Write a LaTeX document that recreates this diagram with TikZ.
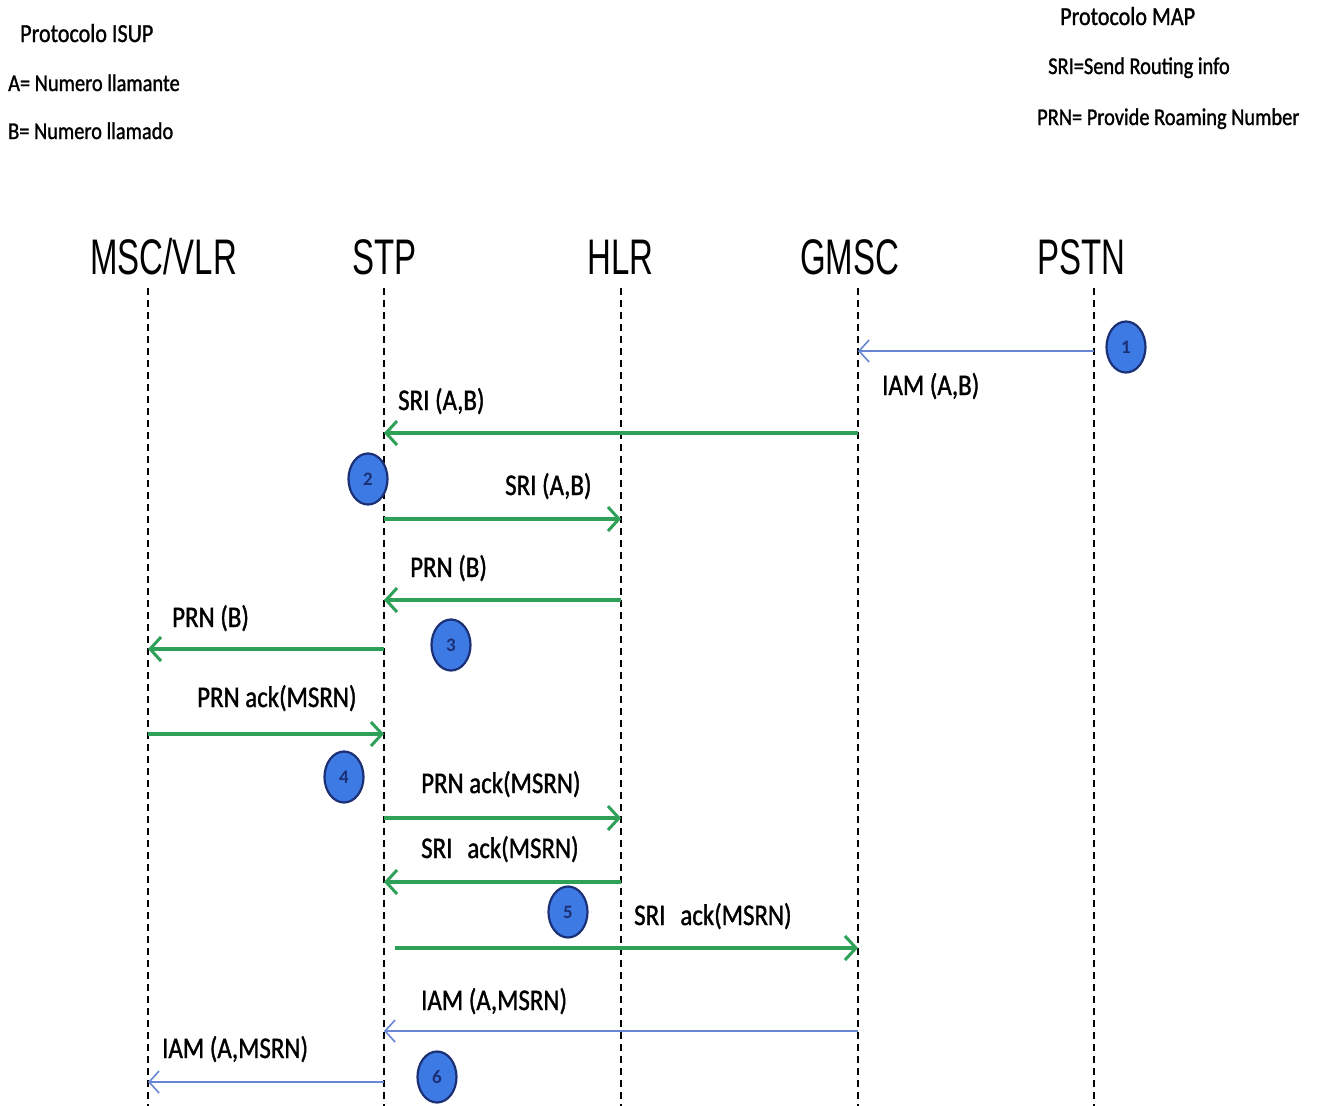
\documentclass[tikz,border=0pt]{standalone}
\usepackage{fontspec}
\setmainfont{Carlito}
\newfontfamily\headfont[FakeStretch=0.66]{Liberation Sans}
\newfontfamily\lblfont[FakeStretch=0.83,FakeBold=1.2]{Carlito}
\newfontfamily\notefont[FakeStretch=0.85,FakeBold=1.2]{Carlito}
\usetikzlibrary{arrows.meta,shapes.geometric}

\definecolor{msggreen}{RGB}{46,160,88}
\definecolor{msgblue}{RGB}{104,134,212}
\definecolor{ballfill}{RGB}{62,122,228}
\definecolor{balledge}{RGB}{28,48,118}

\tikzset{
  lifeline/.style={draw=black, line width=1.6pt, dash pattern=on 7pt off 5pt},
  header/.style={anchor=base west, inner sep=0pt, font=\headfont\fontsize{50}{56}\selectfont},
  msglabel/.style={anchor=base west, inner sep=0pt, font=\lblfont\fontsize{30}{34}\selectfont},
  note/.style={anchor=base west, inner sep=0pt, font=\notefont\fontsize{24}{28}\selectfont},
  notetitle/.style={anchor=base west, inner sep=0pt, font=\notefont\fontsize{26}{30}\selectfont},
  greenmsg/.style={draw=msggreen, line width=3.2pt,
    -{Straight Barb[length=11pt,width=24pt,line width=3pt]}},
  bluemsg/.style={draw=msgblue, line width=1.6pt,
    -{Straight Barb[length=10pt,width=22pt,line width=1.6pt]}},
  stepball/.style={ellipse, fill=ballfill, draw=balledge, line width=2.2pt,
    minimum width=39pt, minimum height=51pt, inner sep=0pt,
    font=\bfseries\fontsize{19}{19}\selectfont, text=balledge},
}

\begin{document}
\begin{tikzpicture}[x=1pt,y=-1pt]
\fill[white] (0,0) rectangle (1318,1106);
\useasboundingbox (0,0) rectangle (1318,1106);

% legend texts
\node[notetitle] (isup)  at (20,42)   {Protocolo ISUP};
\node[note]      (avar)  at (8,91)    {A= Numero llamante};
\node[note]      (bvar)  at (8,139)   {B= Numero llamado};
\node[notetitle] (map)   at (1060,25) {Protocolo MAP};
\node[note]      (sri)   at (1048,74) {SRI=Send Routing info};
\node[note]      (prn)   at (1037,125){PRN= Provide Roaming Number};

% entity headers
\node[header] (hmsc)  at (90,274)   {MSC/VLR};
\node[header] (hstp)  at (352,274)  {STP};
\node[header] (hhlr)  at (587,274)  {HLR};
\node[header] (hgmsc) at (800,274)  {GMSC};
\node[header] (hpstn) at (1037,274) {PSTN};

% lifelines
\coordinate (msc)  at (148,288);  \coordinate (mscB)  at (148,1106);
\coordinate (stp)  at (384,288);  \coordinate (stpB)  at (384,1106);
\coordinate (hlr)  at (621,288);  \coordinate (hlrB)  at (621,1106);
\coordinate (gmsc) at (858,288);  \coordinate (gmscB) at (858,1106);
\coordinate (pstn) at (1094,288); \coordinate (pstnB) at (1094,1106);
\foreach \l in {msc,stp,hlr,gmsc,pstn}
  \draw[lifeline] (\l) -- (\l B);

% message rows
\coordinate (r1)  at (0,351);
\coordinate (r2)  at (0,433);
\coordinate (r3)  at (0,519);
\coordinate (r4)  at (0,600);
\coordinate (r5)  at (0,649);
\coordinate (r6)  at (0,734);
\coordinate (r7)  at (0,818);
\coordinate (r8)  at (0,882);
\coordinate (r9)  at (0,948);
\coordinate (r10) at (0,1031);
\coordinate (r11) at (0,1082);

% messages
\draw[bluemsg]  (pstn |- r1) -- (gmsc |- r1);
\draw[greenmsg] (gmsc |- r2) -- (stp |- r2);
\draw[greenmsg] (stp |- r3) -- (hlr |- r3);
\draw[greenmsg] (hlr |- r4) -- (stp |- r4);
\draw[greenmsg] (stp |- r5) -- (msc |- r5);
\draw[greenmsg] (msc |- r6) -- (stp |- r6);
\draw[greenmsg] (stp |- r7) -- (hlr |- r7);
\draw[greenmsg] (hlr |- r8) -- (stp |- r8);
\draw[greenmsg] ([xshift=11pt]stp |- r9) -- (gmsc |- r9);
\draw[bluemsg]  (gmsc |- r10) -- (stp |- r10);
\draw[bluemsg]  (stp |- r11) -- (msc |- r11);

% message labels
\node[msglabel] (l1)  at (882,395)  {IAM (A,B)};
\node[msglabel] (l2)  at (398,410)  {SRI (A,B)};
\node[msglabel] (l3)  at (505,495)  {SRI (A,B)};
\node[msglabel] (l4)  at (410,577)  {PRN (B)};
\node[msglabel] (l5)  at (172,627)  {PRN (B)};
\node[msglabel] (l6)  at (197,707)  {PRN ack(MSRN)};
\node[msglabel] (l7)  at (421,793)  {PRN ack(MSRN)};
\node[msglabel] (l8)  at (421,858)  {SRI\hspace{0.5em}ack(MSRN)};
\node[msglabel] (l9)  at (634,925)  {SRI\hspace{0.5em}ack(MSRN)};
\node[msglabel] (l10) at (421,1010) {IAM (A,MSRN)};
\node[msglabel] (l11) at (162,1058) {IAM (A,MSRN)};

% step markers
\node[stepball] (s1) at (1126,347) {1};
\node[stepball] (s2) at (368,479)  {2};
\node[stepball] (s3) at (451,645)  {3};
\node[stepball] (s4) at (344,777)  {4};
\node[stepball] (s5) at (568,912)  {5};
\node[stepball] (s6) at (437,1077) {6};
\end{tikzpicture}
\end{document}
